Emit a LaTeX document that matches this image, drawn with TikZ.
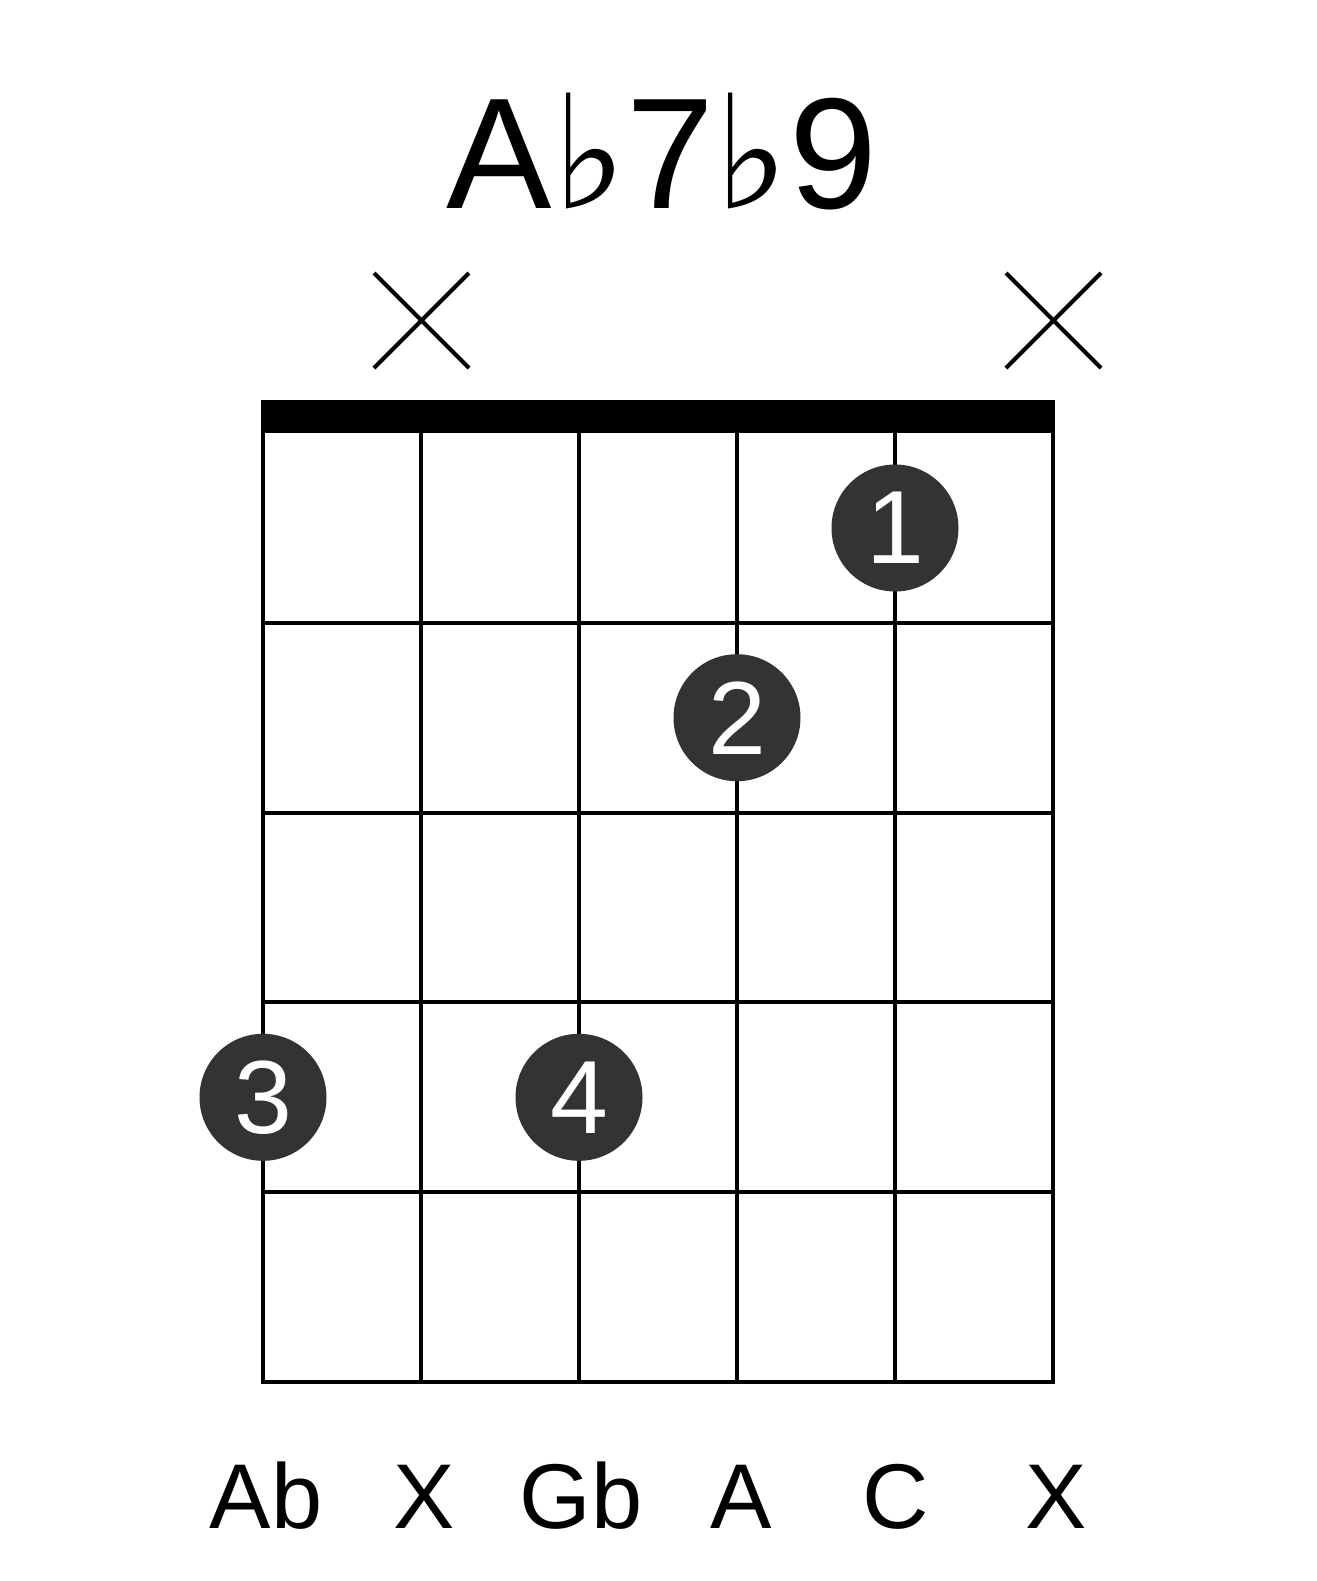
\documentclass[tikz,border=0pt]{standalone}
\usepackage{fontspec}
\setmainfont{Liberation Sans}
\newfontfamily\djv{DejaVu Sans}
\begin{document}
\begin{tikzpicture}[x=0.5pt,y=-0.5pt,
  gridline/.style={line width=2pt,line cap=rect},
  mute/.style={line width=2pt},
  fingerdot/.style={circle,fill=black!80,inner sep=0pt,minimum size=63.5pt,text=white,font=\fontsize{52}{52}\selectfont},
  notelabel/.style={anchor=base,font=\fontsize{46}{46}\selectfont},
  titlelabel/.style={anchor=base,font=\fontsize{79}{79}\selectfont}]
\useasboundingbox (0,0) rectangle (1317,1581);
\fill[white] (0,0) rectangle (1317,1581);
% strings
\foreach \i/\x in {1/263,2/421,3/579,4/737,5/895,6/1053}{
  \coordinate (t\i) at (\x,433);
  \coordinate (b\i) at (\x,1382);
  \draw[gridline] (t\i) -- (b\i);
}
% frets
\foreach \j/\y in {1/622.8,2/812.6,3/1002.4,4/1192.2,5/1382}{
  \coordinate (fl\j) at (263,\y);
  \coordinate (fr\j) at (1053,\y);
  \draw[gridline] (fl\j) -- (fr\j);
}
% nut
\fill (261,400) rectangle (1055,433);
% muted strings
\draw[mute] (374,273) -- (469,368) (374,368) -- (469,273);
\draw[mute] (1006,273) -- (1101,368) (1006,368) -- (1101,273);
% title
\node[titlelabel] (title) at (662,208) {A{\djv ♭}7{\djv ♭}9};
% finger dots
\node[fingerdot] (d1) at (895,528) {1};
\node[fingerdot] (d2) at (737,717.7) {2};
\node[fingerdot] (d3) at (263,1097.3) {3};
\node[fingerdot] (d4) at (579,1097.3) {4};
% note labels
\node[notelabel] (n1) at (266,1528) {Ab};
\node[notelabel] (n2) at (424,1528) {X};
\node[notelabel] (n3) at (581,1528) {Gb};
\node[notelabel] (n4) at (741,1528) {A};
\node[notelabel] (n5) at (896,1528) {C};
\node[notelabel] (n6) at (1056,1528) {X};
\end{tikzpicture}
\end{document}
